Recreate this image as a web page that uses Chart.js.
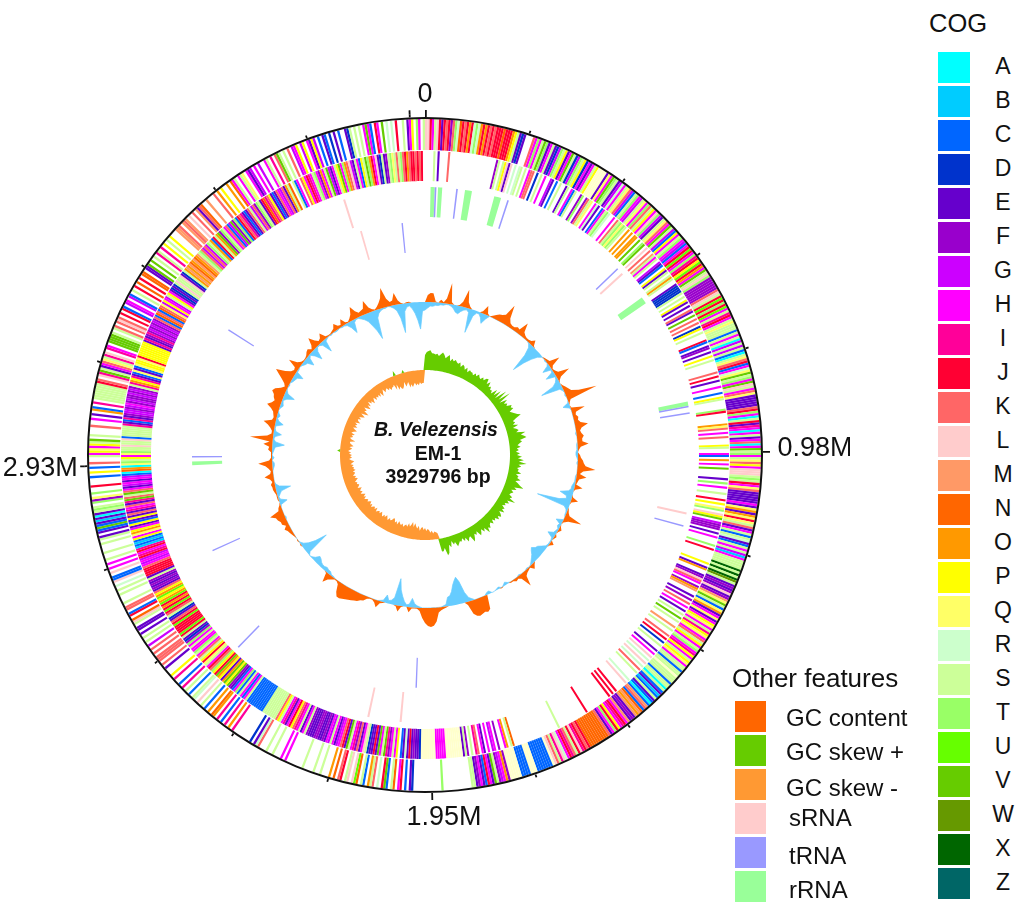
<!DOCTYPE html>
<html><head><meta charset="utf-8">
<style>
html,body{margin:0;padding:0;background:#fff;width:1021px;height:905px;overflow:hidden;font-family:"Liberation Sans",Arial,sans-serif;color:#111}
canvas{position:absolute;left:0;top:0}
.t{position:absolute;white-space:nowrap;line-height:1;transform:translateY(-50%)}
.c{transform:translate(-50%,-50%);font-weight:bold;font-size:19.5px}
.s{position:absolute}
</style>
<script src="https://cdn.jsdelivr.net/npm/chart.js@4"></script>
</head><body>
<canvas id="rings" width="850" height="905"></canvas>
<canvas id="tracks" width="850" height="905"></canvas>
<div id="legend"></div>
<div class="t c" style="left:436px;top:430px;font-style:italic">B. Velezensis</div>
<div class="t c" style="left:438px;top:454px">EM-1</div>
<div class="t c" style="left:438px;top:477px">3929796 bp</div>
<script>
const genomeSize = 3929796;
const tickStep = 195000;
const tickLabels = ['0','0.98M','1.95M','2.93M'];
const tickLabelAngles = [0,89,177,268];
const tickLabelRadii = [360,390,363,385];

const cogLetters = ['A','B','C','D','E','F','G','H','I','J','K','L','M','N','O','P','Q','R','S','T','U','V','W','X','Z'];
const cogColors = ['#00ffff','#00ccff','#0066ff','#0033cc','#6600cc','#9900cc','#cc00ff','#ff00ff','#ff0099','#ff0033','#ff6666','#ffcccc','#ff9966','#ff6600','#ff9900','#ffff00','#ffff66','#ccffcc','#ccff99','#99ff66','#66ff00','#66cc00','#669900','#006600','#006666'];
const otherNames = ['GC content','GC skew +','GC skew -','sRNA','tRNA','rRNA'];
const otherColors = ['#ff6600','#66cc00','#ff9933','#ffcccc','#9999ff','#99ff99'];
const unassignedColor = '#ffffcc';
const gcDownColor = '#66ccff';

// Each row is 10 degrees of the genome: 25 cells, one COG letter per cell
const forwardCOG = [
"LLJHSLJEJKJFKTRNJKJOJRTRO","JOJKJKJJJNJJJOPSEDE...KHT","HSVTEHSEDGTSPEHVSDGTSPDHE","HSPyyyyEQHVTSEGRHSQKGCSTH",
"GSQHTKSPHLTGESQKHVSGCPHST","HGCHJUJHTIJPUJOHVSLTFFFFF","FKLSJUJTJUHSIJHSQSSSCSHSA","GSGSCASQKJCHRQVSTHVLSHKQE",
"EEEEKJTHASJEIHAHSEHKAHVST","HSQKPHLLLSTSJHQKEEEEEHEQO","EOQJQSKEHSCSRECSHSGBHSSSS","XSXSXWSEFEFLEFMQVSCQOEHQE",
"HPQHSIPQHKSPHSTHIPHSPQHSS","CSSySSSCSSASCEBCSECACMKCN","MOMEFEMHJIHPJTHEKNNNNNNNN","NJKJILJSKIJHRLISKLyCCCCCC",
"CyyyCCCCyyyyyFOHGFSVEHJCE","HFESS............T.......",".....DE.C.JH.NS.CVJ.R.KSO",".CS.NUL.LS.JK.N.O...S..S.",
"...S.......H.H...S..S...K","RE.D........I.O.I.C.I.ON.","O.C.S.L.RS.C.S.I.C..I.P..",".E.K.KKK.K.K.G.S.S.E.EE.S",
"LN.JC.KK.S...S.S.R.LCC.L.","H.H.S..S...S.SE.ECVCEBEAE","STS.TFQ.T..J...C.P.C.K..S","HPQHPSV.S...K..H.E.OC.I.S",
"SSSSSSJK.LIVSEHKQSIL.IH.V","VVVS.SK.KLK.J.JC.GH.GC.S.","J.N.J.NN.EEV.V.S.IS.I.P.S",".P...MMK.MKM.L.K.MEKN..M.",
"..K.O.P..O.NHS.HSQ.HEG.H.","G..HS.I.KVS.S.K.GHP.GP.HE","PG.C.EC.D.E.C..EDS.S.S.HV","HC.JH.V.R.R.J..S.EHP.TH.S"];
const reverseCOG = [
"....S.E....K.............",".........FS.SPLEL.R.RS.S.","HKK.D.S.H..GE.C.S..ES.HCS","..FT.FKSQ.HRE.CHSTR..H.KS",
"TQTS.O.O.OO.V.TV.L.K.MSHS",".GEC.PES.SOS..EDDDDS.S.PE",".E.KE.V.K.K.DP.S...JC.EF.","E.P.S.....K.J.E..H..C.PS.",
"...TJ.....OQK.H.K...PS..H","C.O.H.V....E.T.H..S..J.P.","QT.LPV.GFFF.E.H...T.J....","..P.EO..EFLKH.FOM..E.F.K.",
"H.E.S.V.S..M.S..K.J.D.S..","E.H.L.R.L.R.K.S....R.L...","..J.J.J............J......",".........S...............",
".......NS.OH..F.HG.H.EH.K","I.S.FSEyyyyyyyyHHHHHyyyyy","yyDEEFEJEREC.PHSHFIVSHVEJ","EEDSLHEKFIHSVEJKHGEHSGHEF",
"EEFFEEEFSHESHIKPJHEIHSPKS","SSSSSSCCCCCCCCCSHCHSCTHCE","FVPVOEPOVJPTKJHSQJPSKHSTH","HSHTFDESJUJJJJUJKEDSKJUJO",
"JUOPUOPKEFEFEFSEJJJJKHGHG","JIHJIBCBCPHQOPHEPCEPEKEIH","KEIVKSVKHEGHEHGCANOAQTSPH","QTSSLSSLCSSSSSIECIEFGGFGH",
"FGFFGFGFSIOPIECQECQPPQJPP","PPPPPEIEFIFGFGFGFKCNKCNKQ","GPHGSPHEDEDSLSSLEDSOMOMNO","MNOMSTKGKGTSOCJSOVFTSHKCG",
"VFTCJKIECEKSGKFTSEJNIKPEC","EKHGKEOSN.SCH.KPHJIHSTHFO","HSVGEHSPVHTOKLGESHCPSVTOJ","HLEDSEFSTQSKSTKJOKJJKJKJ."];

// RNA features: position in degrees of the map, kind
const rnaRingA = [[1.2,'r'],[2.1,'t'],[2.8,'r'],[6.7,'t'],[8.6,'R'],[15,'R'],[17.9,'t'],[45.8,'t'],[47.2,'s'],[54,'R'],[78.5,'r'],[79.4,'t'],[80.8,'t'],[102.4,'s'],[105.2,'t'],[185,'s'],[192,'s'],[224,'t'],[342.2,'s']];
const rnaRingB = [[182,'t'],[245.6,'t'],[267.5,'r'],[269.4,'t'],[302.3,'t'],[343.8,'s'],[354.2,'t']];

// GC content deviation above / below the mean, one value per degree of the map
const gcUp = [0,7,9,9,1,0,3,1,5,21, 2,0,0,1,5,18,6,2,0,0, 0,0,2,9,2,0,2,4,6,7, 9,21,8,4,3,3,5,4,14,5,
3,2,2,3,6,1,0,0,0,0, 0,1,2,3,13,3,1,2,4,15, 4,1,0,1,3,5,7,14,32,3, 1,0,1,14,4,3,5,4,6,13,
6,4,5,7,5,5,11,3,1,0, 2,3,5,6,8,18,6,3,10,3, 2,1,8,1,0,0,1,7,1,0, 0,1,2,4,18,5,1,0,1,3,
1,0,2,1,0,4,1,0,0,0, 0,0,0,0,0,2,5,1,2,3, 5,15,4,2,3,1,1,0,0,0, 1,0,0,0,0,0,0,14,16,15,
16,17,16,13,3,0,0,0,0,0, 0,0,1,2,3,5,14,18,19,18, 15,10,3,1,1,1,5,0,0,1, 6,1,0,0,0,0,1,2,7,3,
1,1,2,5,6,8,9,10,11,12, 13,14,14,10,3,1,1,3,5,10, 1,0,0,0,0,0,0,0,0,0, 0,0,0,0,1,0,1,0,1,2,
3,4,6,3,6,6,8,9,14,4, 3,1,0,1,1,1,2,3,3,4, 2,4,9,3,2,4,7,14,3,1, 1,1,4,3,9,3,23,6,2,2,
4,7,12,4,3,4,5,8,13,9, 7,9,10,13,11,6,3,5,9,14, 19,10,5,3,4,13,5,2,1,1, 2,4,5,2,5,12,6,3,4,8,
2,1,1,2,3,7,3,2,7,2, 1,3,6,13,7,4,5,6,13,5, 2,1,3,6,10,20,8,4,5,12, 4,1,0,1,1,0,0,0,0,0];
const gcDown = [8,6,4,4,3,3,2,2,1,1, 2,4,7,8,5,3,2,4,24,6, 2,2,5,10,4,0,0,0,0,0, 0,0,0,0,0,0,0,0,0,0,
0,0,0,1,4,12,30,18,10,4, 1,0,1,0,2,9,1,2,10,1, 2,4,8,22,3,1,0,1,0,0, 1,7,1,0,0,0,0,0,0,0,
0,0,1,0,0,0,1,1,1,2, 2,1,0,1,0,0,0,0,1,1, 1,2,3,3,5,13,6,5,12,34, 5,2,1,1,0,0,7,2,3,1,
2,3,8,2,1,1,1,2,5,8, 9,12,10,7,5,3,1,0,1,0, 0,0,1,0,0,0,0,1,3,1, 0,2,1,0,0,3,2,0,0,0,
0,0,2,4,10,22,27,24,20,14, 10,9,2,1,0,0,0,0,0,0, 0,0,1,2,4,9,3,2,5,10, 16,27,7,4,3,8,2,1,0,0,
0,0,0,0,0,0,0,0,0,0, 0,0,0,0,0,0,0,1,1,3, 3,4,3,3,4,6,7,3,1,0, 3,26,14,7,3,1,0,0,0,0,
0,0,0,0,0,0,1,0,0,0, 0,1,8,2,1,3,5,15,4,1, 0,0,0,0,0,1,2,2,0,2, 0,1,2,3,12,3,1,2,8,2,
1,1,8,3,1,3,1,0,1,3, 2,1,4,11,3,1,0,1,0,2, 3,4,9,1,1,0,1,3,4,10, 3,1,5,12,4,1,1,3,13,2,
1,0,1,0,1,1,0,1,1,2, 6,13,3,1,1,3,5,8,14,20, 29,8,4,2,1,1,0,1,3,6, 14,29,8,4,3,6,11,18,27,9];
// GC skew, one value per degree of the map
const skewPlus = [15,18,19,20,17,17,16,17,15,17, 19,17,14,16,18,12,15,13,15,13, 12,14,10,13,12,9,12,8,11,10, 10,8,11,9,12,10,9,12,10,13,
14,9,13,8,10,7,8,5,12,6, 14,5,18,7,20,6,14,9,12,10, 15,13,15,10,12,14,16,19,13,9, 11,8,13,7,10,12,9,18,13,16,
18,11,13,10,8,11,7,9,6,10, 7,12,8,14,9,17,9,12,8,10, 9,13,8,11,10,14,9,12,15,19, 10,13,8,11,9,8,12,10,17,9,
12,8,10,7,11,9,13,8,11,13, 10,13,9,11,8,12,9,10,13,11, 16,9,12,8,11,13,7,10,8,12, 15,8,9,12,7,10,6,9,8,10,
12,7,9,5,11,8,16,18,10,13, 13,0,0,0,0,0,0,0,0,0, 0,0,0,0,0,0,0,0,0,0, 0,0,0,0,0,0,0,0,0,0,
0,0,0,0,0,0,0,0,0,0, 0,0,0,0,0,0,0,0,0,0, 0,0,0,0,0,0,0,0,0,0, 0,0,0,0,0,0,0,0,0,0,
0,0,0,0,0,0,0,0,0,0, 0,0,0,0,0,0,0,0,0,0, 0,0,0,0,0,0,0,0,0,0, 0,0,0,3,0,0,0,0,0,0,
0,0,0,0,0,0,0,0,0,0, 0,0,0,0,0,0,0,0,0,0, 0,0,0,0,0,0,0,0,0,0, 0,0,0,0,0,0,0,0,0,0,
0,0,0,0,0,0,0,0,0,0, 0,0,0,0,0,0,0,0,0,5, 0,0,0,0,0,3,0,0,0,0, 0,0,0,0,0,0,0,0,0,0];
const skewMinus = [0,0,0,0,0,0,0,0,0,0, 0,0,0,0,0,0,0,0,0,0, 0,0,0,0,0,0,0,0,0,0, 0,0,0,0,0,0,0,0,0,0,
0,0,0,0,0,0,0,0,0,0, 0,0,0,0,0,0,0,0,0,0, 0,0,0,0,0,0,0,0,0,0, 0,0,0,0,0,0,0,0,0,0,
0,0,0,0,0,0,0,0,0,0, 0,0,0,0,0,0,0,0,0,0, 0,0,0,0,0,0,0,0,0,0, 0,0,0,0,0,0,0,0,0,0,
0,0,0,0,0,0,0,0,0,0, 0,0,0,0,0,0,0,0,0,0, 0,0,0,0,0,0,0,0,0,0, 0,0,0,0,0,0,0,0,0,0,
0,0,0,0,0,0,0,0,0,0, 0,6,7,8,6,9,7,10,11,9, 12,10,13,12,9,14,11,13,16,12, 17,14,12,15,11,13,12,10,13,11,
12,14,10,13,11,14,15,12,11,13, 10,12,14,11,13,10,12,14,11,13, 12,10,14,11,13,12,10,13,11,14, 13,11,13,12,10,13,11,14,12,10,
13,11,12,14,10,12,13,11,12,10, 12,14,11,13,10,12,13,11,14,12, 13,11,13,10,12,14,11,9,12,10, 12,9,11,8,10,12,9,13,11,9,
9,14,10,8,11,9,12,8,10,13, 10,8,12,9,11,8,13,10,9,12, 9,12,14,9,13,16,10,12,8,11, 14,9,12,7,11,9,13,10,8,12,
9,11,9,12,8,13,10,7,11,9, 8,11,9,12,10,10,8,14,9,15, 12,15,15,13,9,14,12,10,16,13, 16,14,12,15,13,15,12,14,13,13];

// ---- build ----
const colorOf = Object.fromEntries(cogLetters.map((l,i)=>[l,cogColors[i]]));
colorOf.y = unassignedColor; colorOf['.'] = 'rgba(0,0,0,0)';
const kinds = {s:[otherColors[3],0.45], t:[otherColors[4],0.35], r:[otherColors[5],0.9], R:[otherColors[5],1.5]};

function cogDataset(rows, weight){
  const cells = rows.map(r=>r.padEnd(25,'.').slice(0,25)).join('').split('');
  return {data:cells.map(()=>1), backgroundColor:cells.map(c=>colorOf[c]||'rgba(0,0,0,0)'), weight, borderWidth:0};
}
function featureDataset(features, weight){
  const data=[], bg=[]; let at=0;
  features.forEach(f=>{
    if(f.start>at){data.push(f.start-at);bg.push('rgba(0,0,0,0)');}
    data.push(f.width);bg.push(f.color);at=f.start+f.width;
  });
  data.push(Math.max(360-at,0.001));bg.push('rgba(0,0,0,0)');
  return {data, backgroundColor:bg, weight, borderWidth:0};
}
const solidRing=(color,weight)=>({data:[1],backgroundColor:[color],weight,borderWidth:0});
const tickCount = Math.floor(genomeSize/tickStep);
const ticksAll=[],ticksMajor=[];
for(let i=0;i<=tickCount;i++){
  const f={start:i*tickStep/genomeSize*360,width:0.3,color:'#111'};
  ticksAll.push(f); if(i%5===0) ticksMajor.push(f);
}
const rnaFeatures=list=>list.map(([deg,k])=>({start:deg,width:kinds[k][1],color:kinds[k][0]}));

const layoutPad={left:80,right:80,top:110,bottom:105};
new Chart(document.getElementById('rings'),{
  type:'doughnut',
  data:{datasets:[
    featureDataset(ticksMajor,4),
    featureDataset(ticksAll,3),
    solidRing('#111',2),
    cogDataset(forwardCOG,31),
    solidRing('rgba(0,0,0,0)',1),
    cogDataset(reverseCOG,30),
    solidRing('rgba(0,0,0,0)',6),
    featureDataset(rnaFeatures(rnaRingA),30),
    solidRing('rgba(0,0,0,0)',5),
    featureDataset(rnaFeatures(rnaRingB),30)
  ]},
  options:{responsive:false,animation:false,cutout:203,layout:{padding:layoutPad},
    plugins:{legend:{display:false},tooltip:{enabled:false}},events:[]}
});

const trackDs=(values,base,sign,color,border)=>({data:values.map(v=>base+sign*v),fill:{value:base},backgroundColor:color,borderColor:color,borderWidth:border,pointRadius:0,tension:0});
const tickLabelPlugin={id:'tickLabelPlugin',afterDraw(chart){
  const s=chart.scales.r,ctx=chart.ctx;
  ctx.save();ctx.font='27px "Liberation Sans"';ctx.fillStyle='#111';ctx.textAlign='center';ctx.textBaseline='middle';
  tickLabels.forEach((t,i)=>{
    const p=s.getPointPositionForValue(tickLabelAngles[i],tickLabelRadii[i]);
    ctx.fillText(t,p.x,p.y);
  });
  ctx.restore();
}};
new Chart(document.getElementById('tracks'),{
  type:'radar',
  data:{labels:gcUp.map((_,i)=>String(i)),datasets:[
    trackDs(gcUp,153,1,otherColors[0],0),
    trackDs(gcDown,153,-1,gcDownColor,0.7),
    trackDs(skewPlus,85,1,otherColors[1],0),
    trackDs(skewMinus,85,-1,otherColors[2],0)
  ]},
  options:{responsive:false,animation:false,layout:{padding:layoutPad},
    plugins:{legend:{display:false},tooltip:{enabled:false}},events:[],
    scales:{r:{min:0,max:345,ticks:{display:false},grid:{display:false},angleLines:{display:false},pointLabels:{display:false}}}},
  plugins:[tickLabelPlugin]
});

// ---- legends ----
const lg=document.getElementById('legend');
function txt(s,x,y,size){const d=document.createElement('div');d.className='t';d.textContent=s;d.style.cssText=`left:${x}px;top:${y}px;font-size:${size}px`;lg.appendChild(d);}
function box(c,x,y,w,h){const d=document.createElement('div');d.className='s';d.style.cssText=`left:${x}px;top:${y}px;width:${w}px;height:${h}px;background:${c}`;lg.appendChild(d);}
txt('COG',929,24,25.5);
cogLetters.forEach((l,i)=>{box(cogColors[i],938,52+34*i,32,31);
  const d=document.createElement('div');d.className='t';d.textContent=l;d.style.cssText=`left:1003px;top:${66+34*i}px;font-size:23px;transform:translate(-50%,-50%)`;lg.appendChild(d);});
txt('Other features',732,678,26);
const otherX=[786,786,786,789,789,789],otherY=[718,752,788,818,856,890];
otherNames.forEach((n,i)=>{box(otherColors[i],735,701+34*i,31,31);txt(n,otherX[i],otherY[i],24);});
</script>
</body></html>
